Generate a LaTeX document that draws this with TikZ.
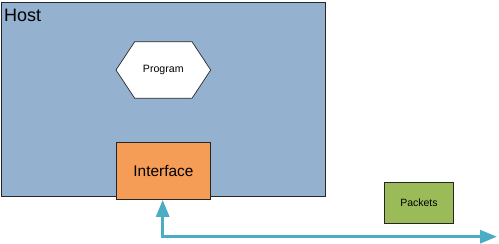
\documentclass[tikz,border=0pt]{standalone}
\usepackage{fontspec}
\setmainfont{Liberation Sans}
\usetikzlibrary{arrows.meta}
\definecolor{hostfill}{RGB}{149,177,208}
\definecolor{ifacefill}{RGB}{245,157,86}
\definecolor{pktfill}{RGB}{155,187,89}
\definecolor{linkcol}{RGB}{75,172,198}
\begin{document}
\begin{tikzpicture}[x=1pt,y=-1pt,
  box/.style={draw=black!85, line width=0.9pt},
  link/.style={draw=linkcol, line width=3pt, {Triangle[length=17pt,width=13pt]}-{Triangle[length=17pt,width=13pt]}}]
\useasboundingbox (0,0) rectangle (499,244);
% Host
\node[box, fill=hostfill, minimum width=324pt, minimum height=194pt, anchor=north west, inner sep=0pt] (host) at (1,1.5) {};
\node[anchor=base west, inner sep=0pt, font=\fontsize{18}{20}\selectfont] (hostlabel) at (4,21) {Host};
% Program hexagon
\coordinate (p1) at (116,70);
\coordinate (p2) at (134.7,41.7);
\coordinate (p3) at (192,41.7);
\coordinate (p4) at (210.7,70);
\coordinate (p5) at (192,98.3);
\coordinate (p6) at (134.7,98.3);
\draw[draw=black!85, line width=0.7pt, fill=white] (p1) -- (p2) -- (p3) -- (p4) -- (p5) -- (p6) -- cycle;
\node[font=\fontsize{10.6}{12}\selectfont] (program) at (163.3,70) {Program};
% Interface
\node[box, fill=ifacefill, minimum width=94.5pt, minimum height=56.7pt, anchor=north west, inner sep=0pt, font=\fontsize{15.4}{17}\selectfont] (iface) at (115.7,142.3) {Interface};
% Packets
\node[box, fill=pktfill, minimum width=68.4pt, minimum height=41pt, anchor=north west, inner sep=0pt, font=\fontsize{10.5}{12}\selectfont] (pkt) at (384.3,181.7) {Packets};
% Link
\coordinate (corner) at (162.7,236.7);
\coordinate (end) at (497,236.7);
\draw[link] (iface.south -| corner) -- (corner) -- (end);
\end{tikzpicture}
\end{document}
